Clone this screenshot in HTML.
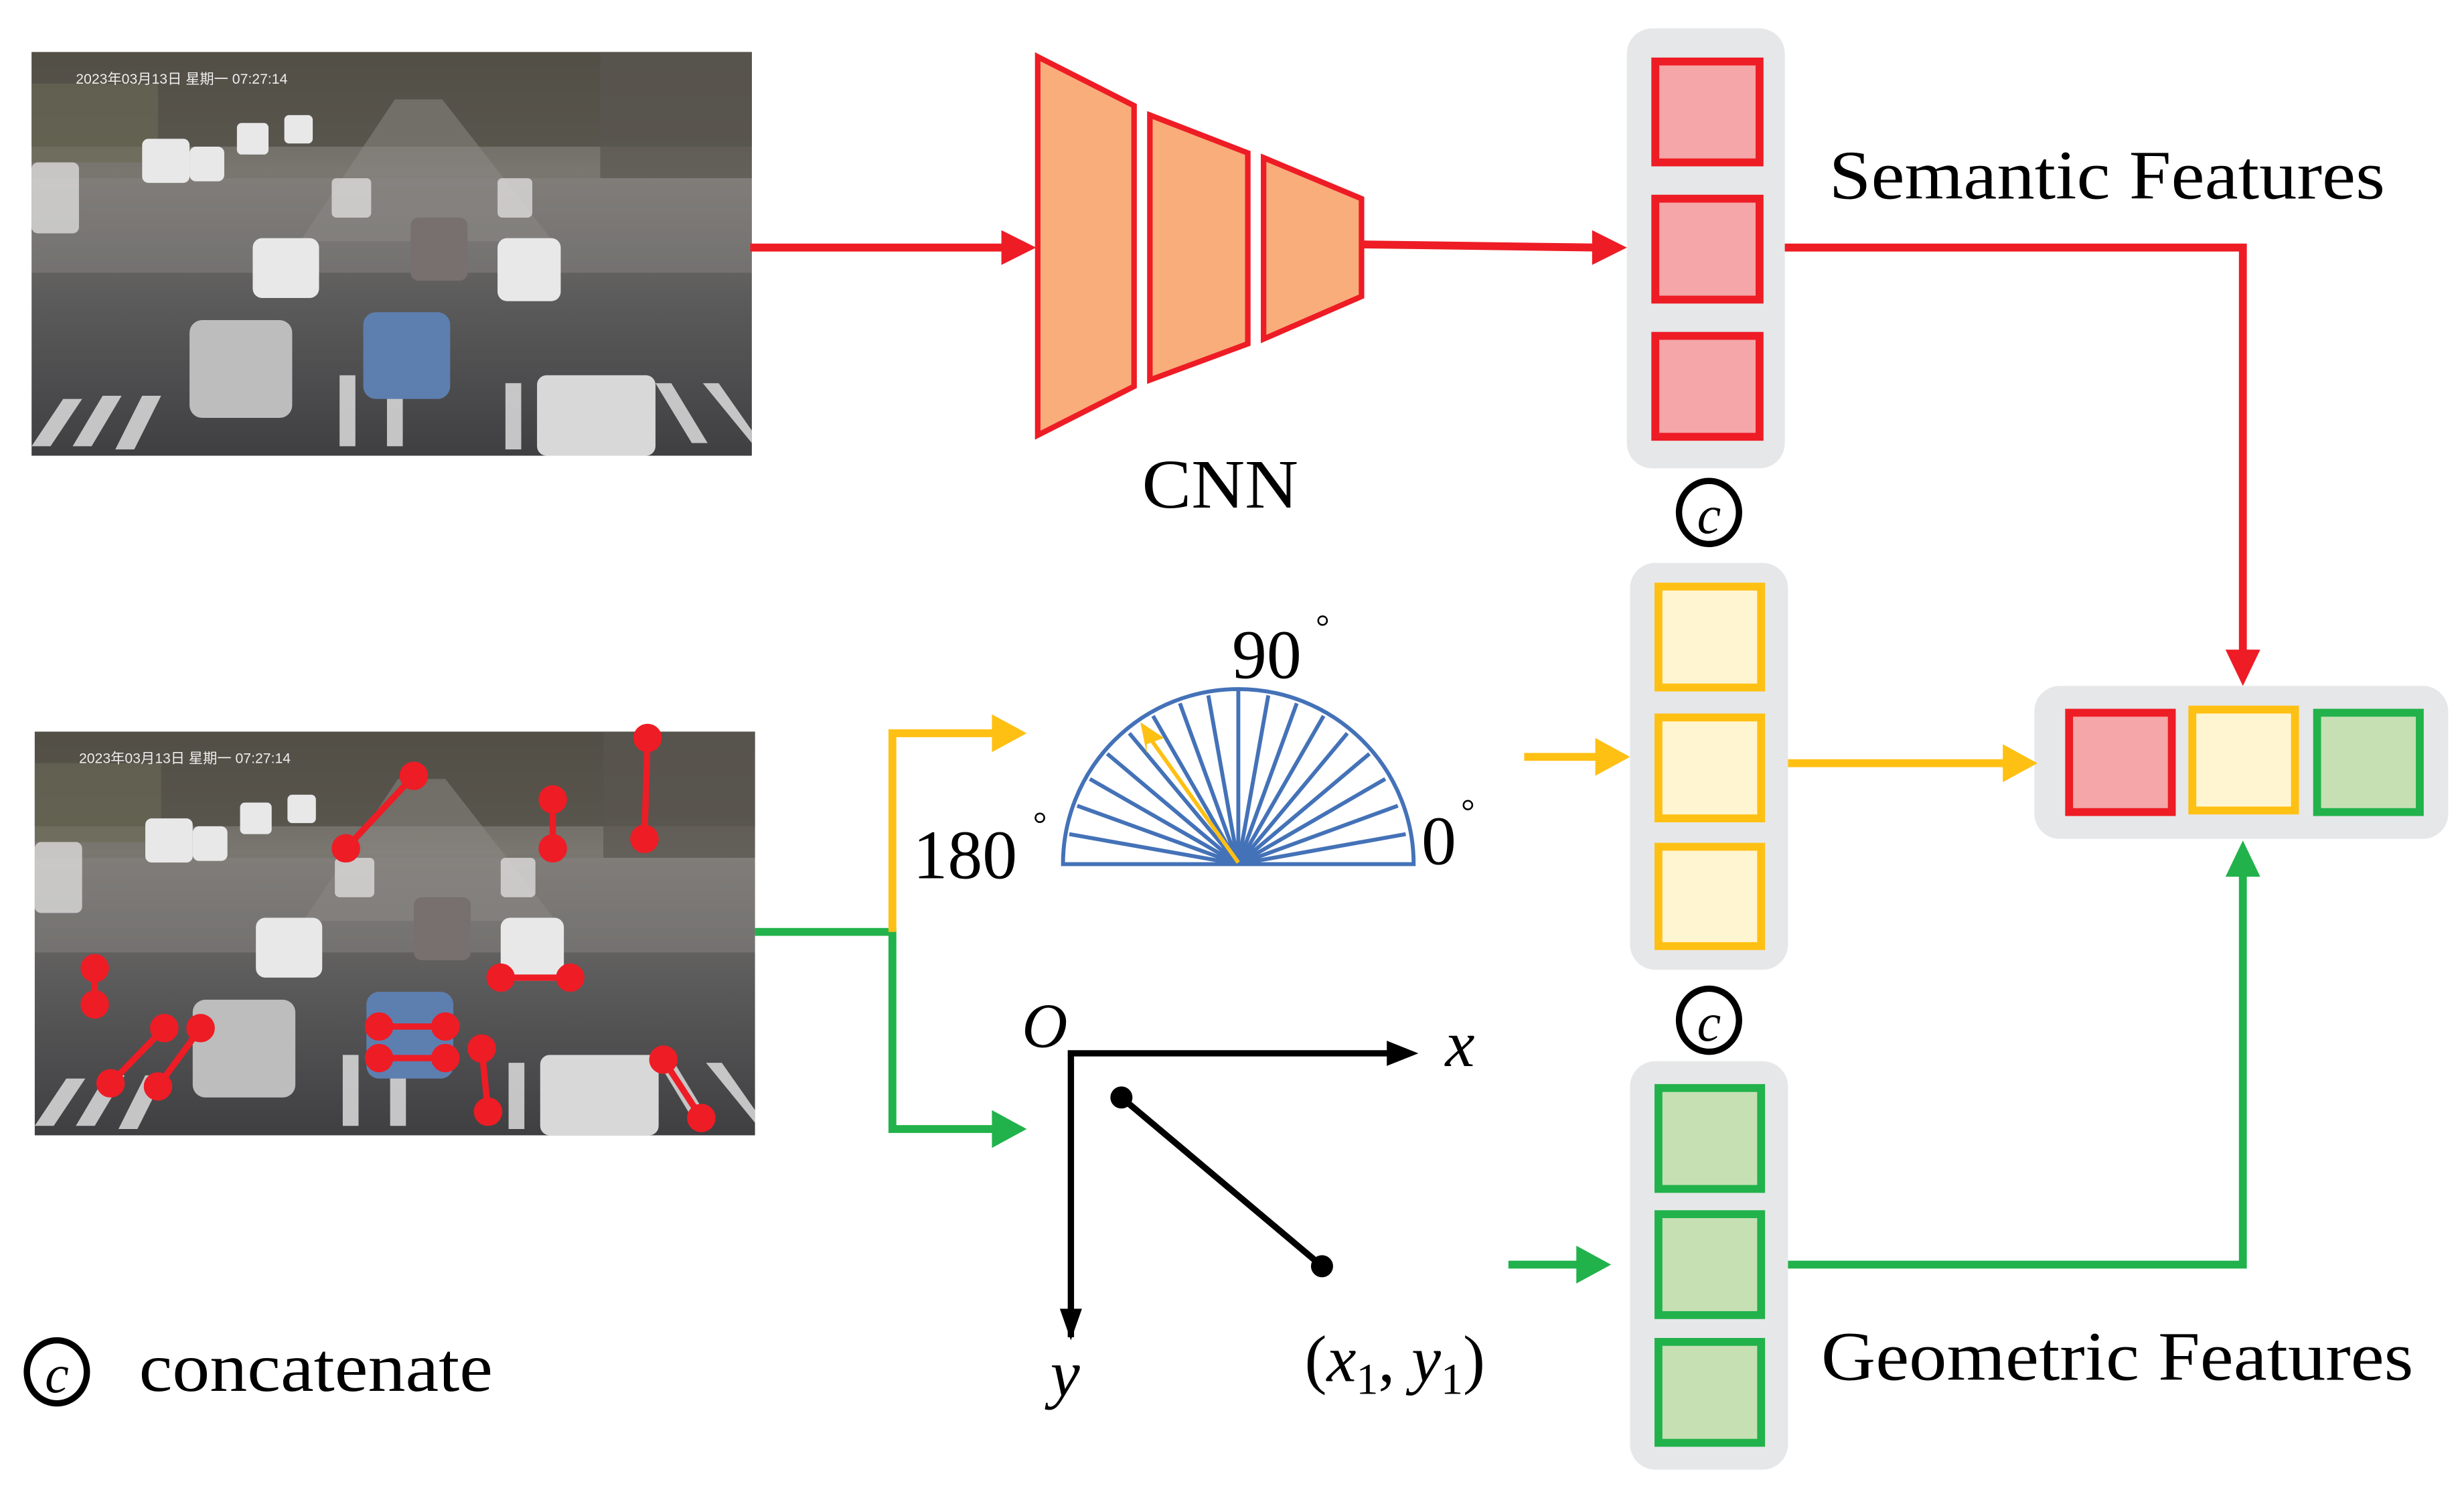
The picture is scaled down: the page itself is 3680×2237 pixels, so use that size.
<!DOCTYPE html>
<html><head><meta charset="utf-8"><style>
html,body{margin:0;padding:0;background:#fff;width:3680px;height:2237px;overflow:hidden}
svg{display:block}
text{font-family:"Liberation Serif","Noto Serif CJK SC",serif;fill:#000}
</style></head><body>
<svg width="3680" height="2237" viewBox="0 0 1560 950" preserveAspectRatio="none" xmlns="http://www.w3.org/2000/svg">
<defs>
<linearGradient id="sky" x1="0" y1="0" x2="0" y2="1">
<stop offset="0" stop-color="#5f5a52"/><stop offset="0.3" stop-color="#7a7670"/><stop offset="0.6" stop-color="#5d5c5c"/><stop offset="1" stop-color="#3f3f42"/>
</linearGradient>
<g id="photo">
<rect x="0" y="0" width="456" height="256" fill="url(#sky)"/>
<rect x="0" y="0" width="456" height="60" fill="#4d4a42" opacity="0.7"/>
<rect x="0" y="20" width="80" height="50" fill="#6b6a55" opacity="0.6"/>
<rect x="360" y="0" width="96" height="80" fill="#5a5650" opacity="0.7"/>
<polygon points="230,30 260,30 330,120 170,120" fill="#8d8985" opacity="0.5"/>
<rect x="0" y="80" width="456" height="60" fill="#8a8784" opacity="0.45"/>
<g fill="#dcdcdc" opacity="0.85">
<polygon points="20,220 32,220 12,250 0,250"/><polygon points="45,218 57,218 38,250 26,250"/><polygon points="70,218 82,218 65,252 53,252"/>
<rect x="195" y="205" width="10" height="45"/><rect x="225" y="205" width="10" height="45"/>
<rect x="300" y="210" width="10" height="42"/><rect x="330" y="208" width="10" height="42"/>
<polygon points="365,210 375,210 395,248 385,248"/><polygon points="395,210 405,210 428,248 418,248"/><polygon points="425,210 435,210 456,240 456,248"/>
</g>
<g fill="#e8e8e8">
<rect x="140" y="118" width="42" height="38" rx="6"/><rect x="295" y="118" width="40" height="40" rx="6"/>
<rect x="100" y="170" width="65" height="62" rx="8" fill="#bdbdbd"/>
<rect x="210" y="165" width="55" height="55" rx="8" fill="#5d7fb0"/>
<rect x="320" y="205" width="75" height="51" rx="6" fill="#d8d8d8"/>
<rect x="240" y="105" width="36" height="40" rx="5" fill="#77706e"/>
<rect x="70" y="55" width="30" height="28" rx="4"/><rect x="100" y="60" width="22" height="22" rx="4"/>
<rect x="130" y="45" width="20" height="20" rx="3"/><rect x="160" y="40" width="18" height="18" rx="3"/>
<rect x="190" y="80" width="25" height="25" rx="3" opacity="0.7"/><rect x="295" y="80" width="22" height="25" rx="3" opacity="0.7"/>
<rect x="0" y="70" width="30" height="45" rx="4" opacity="0.7"/>
</g>
<text x="28" y="20" font-size="9" fill="#eee" style="fill:#eee;font-family:'Liberation Sans','Noto Sans CJK SC',sans-serif">2023年03月13日 星期一 07:27:14</text>
</g>
</defs>

<use href="#photo" x="20" y="33"/>
<use href="#photo" x="22" y="464"/>

<g stroke="#EE1C25" stroke-width="4" fill="#EE1C25">
<line x1="262" y1="492" x2="219" y2="538"/><circle cx="262" cy="492" r="7"/><circle cx="219" cy="538" r="7"/>
<line x1="350" y1="507" x2="350" y2="538"/><circle cx="350" cy="507" r="7"/><circle cx="350" cy="538" r="7"/>
<line x1="410" y1="468" x2="408" y2="532"/><circle cx="410" cy="468" r="7"/><circle cx="408" cy="532" r="7"/>
<line x1="60" y1="614" x2="60" y2="637"/><circle cx="60" cy="614" r="7"/><circle cx="60" cy="637" r="7"/>
<line x1="104" y1="652" x2="70" y2="687"/><circle cx="104" cy="652" r="7"/><circle cx="70" cy="687" r="7"/>
<line x1="127" y1="652" x2="100" y2="689"/><circle cx="127" cy="652" r="7"/><circle cx="100" cy="689" r="7"/>
<line x1="317" y1="620" x2="361" y2="620"/><circle cx="317" cy="620" r="7"/><circle cx="361" cy="620" r="7"/>
<line x1="240" y1="651" x2="282" y2="651"/><circle cx="240" cy="651" r="7"/><circle cx="282" cy="651" r="7"/>
<line x1="240" y1="671" x2="282" y2="671"/><circle cx="240" cy="671" r="7"/><circle cx="282" cy="671" r="7"/>
<line x1="305" y1="665" x2="309" y2="705"/><circle cx="305" cy="665" r="7"/><circle cx="309" cy="705" r="7"/>
<line x1="420" y1="672" x2="444" y2="709"/><circle cx="420" cy="672" r="7"/><circle cx="444" cy="709" r="7"/>
</g>

<line x1="475" y1="157" x2="636" y2="157" stroke="#EE1C25" stroke-width="5"/>
<polygon points="634,146 656,157 634,168" fill="#EE1C25"/>

<g fill="#F8AD7B" stroke="#EE1C25" stroke-width="3.5">
<polygon points="657,36 718,67 718,245 657,276"/>
<polygon points="728,73 790,97 790,218 728,241"/>
<polygon points="800,100 862,126 862,188 800,215"/>
</g>
<text x="723" y="322" font-size="44" textLength="99" lengthAdjust="spacingAndGlyphs">CNN</text>

<line x1="862" y1="155" x2="1012" y2="157" stroke="#EE1C25" stroke-width="5"/>
<polygon points="1008,146 1030,157 1008,168" fill="#EE1C25"/>

<rect x="1030" y="18" width="100" height="279" rx="16" fill="#E6E7E8"/>
<g fill="#F4A6A8" stroke="#EE1C25" stroke-width="5">
<rect x="1048" y="39" width="66" height="64"/><rect x="1048" y="126" width="66" height="64"/><rect x="1048" y="213" width="66" height="64"/>
</g>
<rect x="1032" y="357" width="100" height="258" rx="16" fill="#E6E7E8"/>
<g fill="#FFF5D1" stroke="#FFC014" stroke-width="5">
<rect x="1050" y="372" width="65" height="64"/><rect x="1050" y="455" width="65" height="64"/><rect x="1050" y="537" width="65" height="63"/>
</g>
<rect x="1032" y="673" width="100" height="259" rx="16" fill="#E6E7E8"/>
<g fill="#C6E0B4" stroke="#21B24B" stroke-width="5">
<rect x="1050" y="690" width="65" height="64"/><rect x="1050" y="770" width="65" height="64"/><rect x="1050" y="851" width="65" height="64"/>
</g>

<rect x="1288" y="435" width="262" height="97" rx="16" fill="#E6E7E8"/>
<rect x="1310" y="452" width="65" height="63" fill="#F4A6A8" stroke="#EE1C25" stroke-width="5"/>
<rect x="1388" y="450" width="65" height="64" fill="#FFF5D1" stroke="#FFC014" stroke-width="5"/>
<rect x="1467" y="452" width="65" height="63" fill="#C6E0B4" stroke="#21B24B" stroke-width="5"/>

<polyline points="1130,157 1420,157 1420,415" fill="none" stroke="#EE1C25" stroke-width="5"/>
<polygon points="1409,412 1420,435 1431,412" fill="#EE1C25"/>
<line x1="1132" y1="484" x2="1270" y2="484" stroke="#FFC014" stroke-width="5"/>
<polygon points="1268,472 1290,484 1268,496" fill="#FFC014"/>
<polyline points="1132,802 1420,802 1420,552" fill="none" stroke="#21B24B" stroke-width="5"/>
<polygon points="1409,556 1420,533 1431,556" fill="#21B24B"/>
<line x1="965" y1="480" x2="1012" y2="480" stroke="#FFC014" stroke-width="5"/>
<polygon points="1010,468 1032,480 1010,492" fill="#FFC014"/>
<line x1="955" y1="802" x2="1000" y2="802" stroke="#21B24B" stroke-width="5"/>
<polygon points="998,790 1020,802 998,814" fill="#21B24B"/>

<polyline points="478,591 565,591 565,716 632,716" fill="none" stroke="#21B24B" stroke-width="5"/>
<polygon points="628,704 650,716 628,728" fill="#21B24B"/>
<polyline points="565,591 565,465 632,465" fill="none" stroke="#FFC014" stroke-width="5"/>
<polygon points="628,453 650,465 628,477" fill="#FFC014"/>

<g stroke="#4472B8" stroke-width="2.5" fill="none">
<path d="M673,548 A111,111 0 0 1 895,548 Z"/>
<line x1="784" y1="548" x2="890" y2="529"/><line x1="784" y1="548" x2="885" y2="511"/><line x1="784" y1="548" x2="877" y2="494"/>
<line x1="784" y1="548" x2="867" y2="478"/><line x1="784" y1="548" x2="853" y2="465"/><line x1="784" y1="548" x2="838" y2="454"/>
<line x1="784" y1="548" x2="821" y2="446"/><line x1="784" y1="548" x2="803" y2="441"/><line x1="784" y1="548" x2="784" y2="438"/>
<line x1="784" y1="548" x2="765" y2="441"/><line x1="784" y1="548" x2="747" y2="446"/><line x1="784" y1="548" x2="730" y2="454"/>
<line x1="784" y1="548" x2="715" y2="465"/><line x1="784" y1="548" x2="701" y2="478"/><line x1="784" y1="548" x2="690" y2="494"/>
<line x1="784" y1="548" x2="682" y2="511"/><line x1="784" y1="548" x2="677" y2="529"/>
</g>
<line x1="784" y1="547" x2="728" y2="468" stroke="#FFC014" stroke-width="2.5"/>
<polygon points="722,458 737,468 726,472 726,478" fill="#FFC014"/>
<text x="780" y="430" font-size="44">90</text><text x="833" y="405" font-size="22">°</text>
<text x="578" y="557" font-size="44">180</text><text x="654" y="530" font-size="22">°</text>
<text x="900" y="548" font-size="44">0</text><text x="925" y="522" font-size="22">°</text>

<polyline points="678,848 678,668 880,668" fill="none" stroke="#000" stroke-width="4"/>
<polygon points="878,660 898,668 878,676" fill="#000"/>
<polygon points="671,830 678,850 685,830" fill="#000"/>
<text x="647" y="664" font-size="40" font-style="italic">O</text>
<text x="915" y="676" font-size="42" font-style="italic">x</text>
<text x="665" y="885" font-size="42" font-style="italic">y</text>
<line x1="710" y1="696" x2="837" y2="803" stroke="#000" stroke-width="4"/>
<circle cx="710" cy="696" r="7" fill="#000"/><circle cx="837" cy="803" r="7" fill="#000"/>
<text x="826" y="876" font-size="42">(<tspan font-style="italic">x</tspan><tspan font-size="28" dy="8">1</tspan><tspan dy="-8">, </tspan><tspan font-style="italic">y</tspan><tspan font-size="28" dy="8">1</tspan><tspan dy="-8">)</tspan></text>

<g fill="none" stroke="#000" stroke-width="4">
<ellipse cx="1082" cy="325" rx="19" ry="20"/><ellipse cx="1082" cy="647" rx="19" ry="20"/><ellipse cx="36" cy="870" rx="19" ry="20"/>
</g>
<text x="1082" y="338" font-size="34" font-style="italic" text-anchor="middle">c</text>
<text x="1082" y="660" font-size="34" font-style="italic" text-anchor="middle">c</text>
<text x="36" y="883" font-size="34" font-style="italic" text-anchor="middle">c</text>
<text x="88" y="882" font-size="44" textLength="224" lengthAdjust="spacingAndGlyphs">concatenate</text>

<text x="1158" y="126" font-size="44" textLength="352" lengthAdjust="spacingAndGlyphs">Semantic Features</text>
<text x="1153" y="875" font-size="44" textLength="375" lengthAdjust="spacingAndGlyphs">Geometric Features</text>
</svg>
</body></html>
